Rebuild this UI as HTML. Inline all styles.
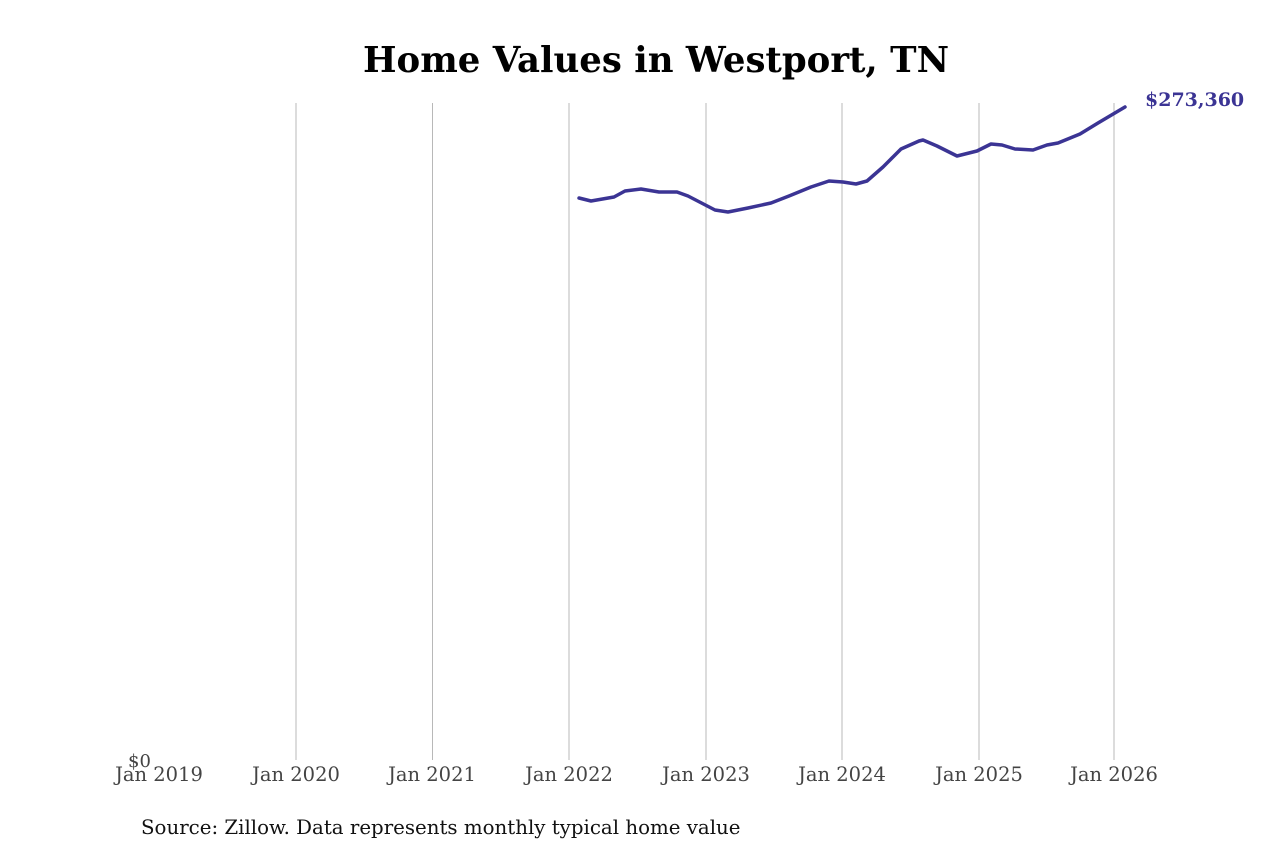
<!DOCTYPE html>
<html><head><style>
body{margin:0;background:#fff;}
svg{display:block;}
</style></head><body>
<svg width="1280" height="853" xmlns="http://www.w3.org/2000/svg" font-family="DejaVu Serif, Liberation Serif, serif">
<rect width="1280" height="853" fill="#fff"/>
<text x="656" y="72" text-anchor="middle" font-size="35.5" font-weight="bold" fill="#000">Home Values in Westport, TN</text>
<g stroke="#b8b8b8" stroke-width="1">
<line x1="296" y1="103" x2="296" y2="760"/>
<line x1="432.5" y1="103" x2="432.5" y2="760"/>
<line x1="569" y1="103" x2="569" y2="760"/>
<line x1="706" y1="103" x2="706" y2="760"/>
<line x1="842" y1="103" x2="842" y2="760"/>
<line x1="979" y1="103" x2="979" y2="760"/>
<line x1="1114" y1="103" x2="1114" y2="760"/>
</g>
<text x="128" y="767" font-size="18" fill="#444">$0</text>
<g font-size="19.5" fill="#444" text-anchor="middle">
<text x="159" y="781">Jan 2019</text>
<text x="296" y="781">Jan 2020</text>
<text x="432" y="781">Jan 2021</text>
<text x="569" y="781">Jan 2022</text>
<text x="706" y="781">Jan 2023</text>
<text x="842" y="781">Jan 2024</text>
<text x="979" y="781">Jan 2025</text>
<text x="1114" y="781">Jan 2026</text>
</g>
<polyline fill="none" stroke="#3b3494" stroke-width="3.5" stroke-linejoin="round" stroke-linecap="round" points="579,198 591,201 614,197 625,191 641,189 659,192 677,192 688,196 715,210 728,212 748,208 771,203 789,196 811,187 829,181 843,182 856,184 867,181 883,167 901,149 919,141 923,140 937,146 957,156 977,151 991,144 1002,145 1015,149 1033,150 1047,145 1058,143 1080,134 1098,123 1125,107"/>
<text x="1145" y="106" font-size="19" font-weight="bold" fill="#3b3494">$273,360</text>
<text x="141" y="834" font-size="19.8" fill="#111">Source: Zillow. Data represents monthly typical home value</text>
</svg>
</body></html>
